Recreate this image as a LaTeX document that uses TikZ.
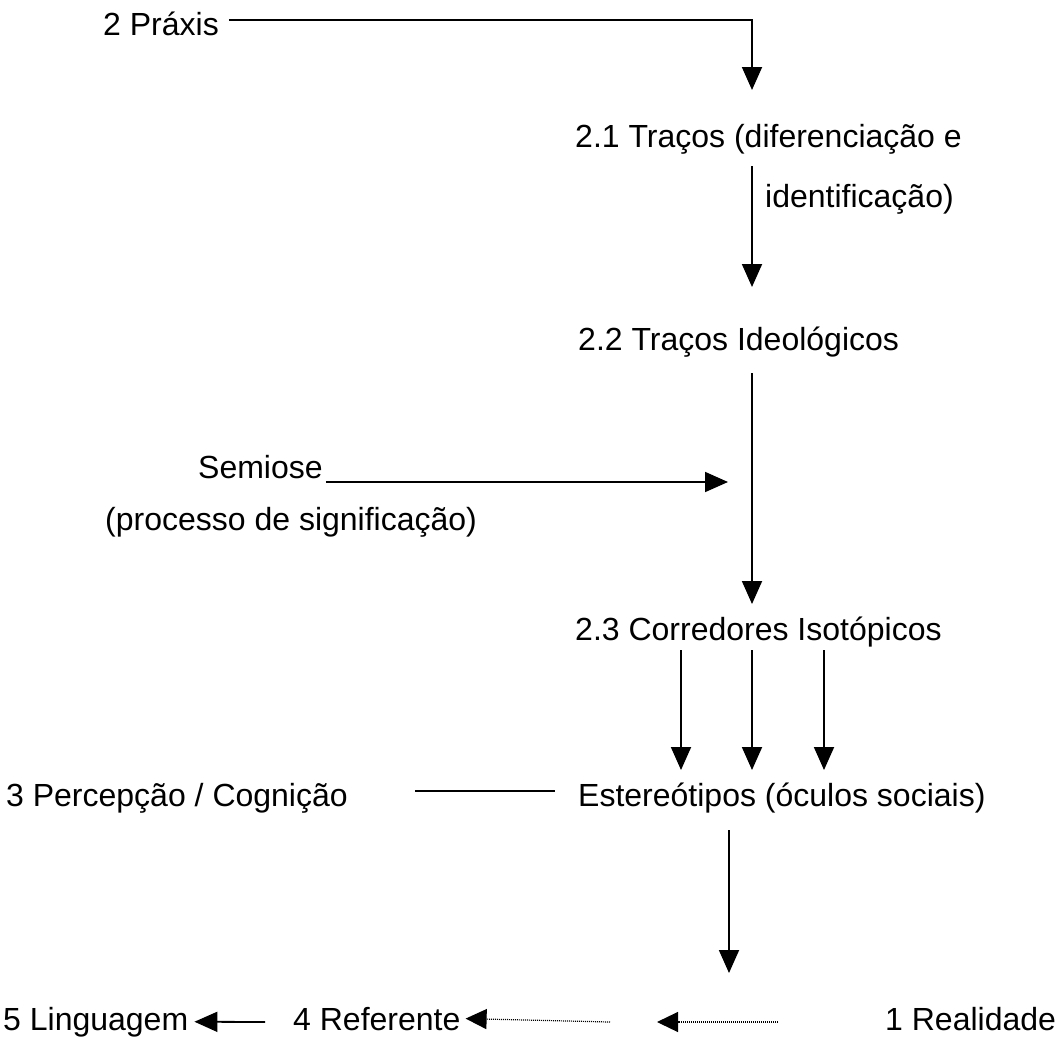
\documentclass[tikz,border=0pt]{standalone}
\usepackage{fontspec}
\setmainfont{Liberation Sans}
\usetikzlibrary{arrows.meta}
\begin{document}
\begin{tikzpicture}[x=1pt,y=1pt,
    arr/.style={black,line width=1.8pt,-{Triangle[width=20pt,length=23pt]}},
    dotarr/.style={black,line width=1.2pt,dash pattern=on 1pt off 1pt,-{Triangle[width=20pt,length=21pt]}}]
    \tikzstyle{every node}+=[inner sep=0pt,anchor=base west,font=\fontsize{32}{38}\selectfont]
    \useasboundingbox (0,0) rectangle (1056,-1036);
    % texts
    \node (praxis) at (103,-35) {2 Práxis};
    \node (tracos) at (575,-147) {2.1 Traços (diferenciação e};
    \node (ident) at (765,-207) {identificação)};
    \node (ideol) at (578,-350) {2.2 Traços Ideológicos};
    \node (semiose) at (198,-478) {Semiose};
    \node (processo) at (105,-530) {(processo de significação)};
    \node (corred) at (575,-640) {2.3 Corredores Isotópicos};
    \node (percep) at (6,-806) {3 Percepção / Cognição};
    \node (estereo) at (578,-806) {Estereótipos (óculos sociais)};
    \node (ling) at (3,-1030) {5 Linguagem};
    \node (refer) at (293,-1030) {4 Referente};
    \node (realid) at (885,-1030) {1 Realidade};
    % free ends
    \coordinate (p1) at (752,-90);
    \coordinate (t1) at (752,-166);
    \coordinate (t2) at (752,-287);
    \coordinate (i1) at (752,-373);
    \coordinate (i2) at (752,-604);
    \coordinate (s1) at (728,-482);
    \coordinate (e1) at (729,-830);
    \coordinate (e2) at (729,-973);
    \coordinate (c1) at (415,-791);
    \coordinate (c2) at (555,-791);
    \coordinate (l1) at (265,-1022);
    \coordinate (d1) at (610,-1022);
    \coordinate (d2) at (778,-1022);
    \coordinate (d3) at (657,-1022);
    % connectors
    \draw [arr] ([xshift=10pt,yshift=3pt]praxis.east) -| (p1);
    \draw [arr] (t1) -- (t2);
    \draw [arr] (i1) -- (i2);
    \draw [arr] ([xshift=3pt,yshift=-4pt]semiose.base east) -- (s1);
    \foreach \x in {681,752,824}
        \draw [arr] (\x,-650) -- (\x,-770);
    \draw [black,line width=1.8pt] (c1) -- (c2);
    \draw [arr] (e1) -- (e2);
    \draw [arr] (l1) -- ([xshift=6pt]ling.east);
    \draw [dotarr] (d1) -- ([xshift=5pt]refer.east);
    \draw [dotarr] (d2) -- (d3);
\end{tikzpicture}
\end{document}
